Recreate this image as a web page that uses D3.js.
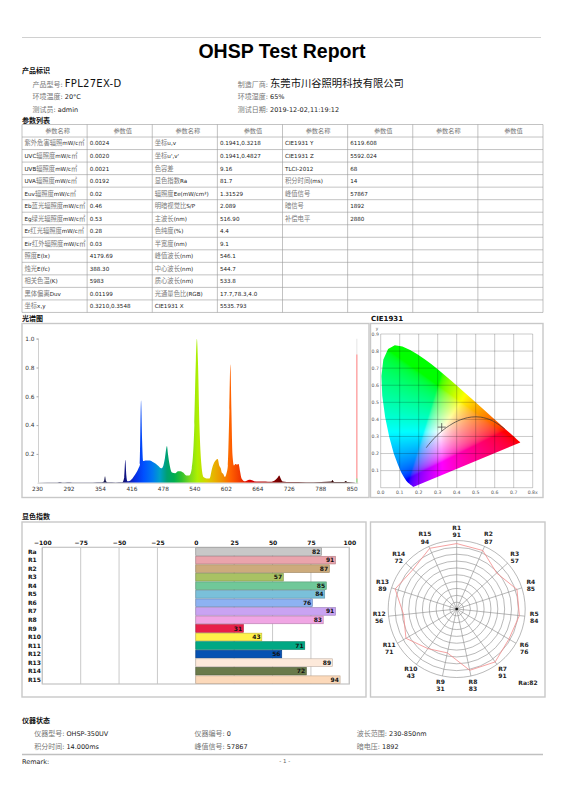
<!DOCTYPE html>
<html>
<head>
<meta charset="utf-8">
<script src="https://cdn.jsdelivr.net/npm/d3@7"></script>
<style>
body { margin: 0; background: #fff; }
</style>
</head>
<body>
<div id="page"></div>
<script>
// ---------- data ----------
const reportTitle = "OHSP Test Report";

const infoLeft = [["产品型号", "FPL27EX-D"], ["环境温度", "20°C"], ["测试员", "admin"]];
const infoRight = [["制造厂商", "东莞市川谷照明科技有限公司"], ["环境湿度", "65%"], ["测试日期", "2019-12-02,11:19:12"]];

const tableHeader = ["参数名称", "参数值", "参数名称", "参数值", "参数名称", "参数值", "参数名称", "参数值"];
const paramNames1 = ["紫外危害辐照mW/c㎡", "UVC辐照度mW/c㎡", "UVB辐照度mW/c㎡", "UVA辐照度mW/c㎡", "Euv辐照度mW/c㎡",
  "Eb蓝光辐照度mW/c㎡", "Eg绿光辐照度mW/c㎡", "Er红光辐照度mW/c㎡", "Eir红外辐照度mW/c㎡", "照度E(lx)",
  "烛光E(fc)", "相关色温(K)", "黑体偏离Duv", "坐标x,y"];
const paramValues1 = ["0.0024", "0.0020", "0.0021", "0.0192", "0.02", "0.46", "0.53", "0.28", "0.03",
  "4179.69", "388.30", "5983", "0.01199", "0.3210,0.3548"];
const paramNames2 = ["坐标u,v", "坐标u',v'", "色容差", "显色指数Ra", "辐照度Ee(mW/cm²)", "明暗视觉比S/P", "主波长(nm)",
  "色纯度(%)", "半宽度(nm)", "峰值波长(nm)", "中心波长(nm)", "质心波长(nm)", "光通量色比(RGB)", "CIE1931 X"];
const paramValues2 = ["0.1941,0.3218", "0.1941,0.4827", "9.16", "81.7", "1.31529", "2.089", "516.90",
  "4.4", "9.1", "546.1", "544.7", "533.8", "17.7,78.3,4.0", "5535.793"];
const paramNames3 = ["CIE1931 Y", "CIE1931 Z", "TLCI-2012", "积分时间(ms)", "峰值信号", "暗信号", "补偿电平"];
const paramValues3 = ["6119.608", "5592.024", "68", "14", "57867", "1892", "2880"];

// relative spectrum [wavelength nm, relative value]
const spectrum = [
  [230, 0], [270, 0.001], [275, 0.005], [280, 0.001], [290, 0.003], [300, 0.002], [320, 0.002], [340, 0.002],
  [358, 0.003], [362, 0.01], [364, 0.045], [366, 0.01], [369, 0.003], [385, 0.002], [398, 0.003],
  [402, 0.04], [404, 0.16], [406, 0.05], [408, 0.01], [412, 0.012], [418, 0.03], [424, 0.06],
  [430, 0.1], [433, 0.13], [435, 0.57], [437, 0.3], [439, 0.15], [445, 0.155], [452, 0.155],
  [460, 0.14], [468, 0.12], [475, 0.1], [479, 0.12], [482, 0.17], [486, 0.255], [488, 0.2],
  [491, 0.13], [496, 0.07], [502, 0.065], [508, 0.08], [513, 0.08], [518, 0.07], [524, 0.05],
  [530, 0.05], [535, 0.1], [540, 0.4], [543, 0.85], [545, 1.0], [547, 0.85], [550, 0.4],
  [554, 0.12], [558, 0.04], [564, 0.03], [570, 0.03], [575, 0.1], [579, 0.14], [583, 0.16],
  [586, 0.165], [589, 0.12], [592, 0.1], [594, 0.07], [597, 0.06], [600, 0.04], [603, 0.06],
  [606, 0.12], [609, 0.5], [611, 0.82], [613, 0.5], [615, 0.2], [618, 0.12], [621, 0.13],
  [624, 0.125], [627, 0.13], [630, 0.08], [633, 0.03], [640, 0.01], [648, 0.02], [652, 0.018],
  [658, 0.01], [665, 0.008], [680, 0.008], [690, 0.006], [700, 0.02], [705, 0.04], [707, 0.05],
  [710, 0.03], [714, 0.008], [730, 0.004], [760, 0.003], [790, 0.005], [810, 0.008], [812, 0.018],
  [815, 0.005], [835, 0.004], [838, 0.012], [842, 0.004], [855, 0.002], [860, 0]
];
const spectrumMarker = [860, 0.89];
const specXTicks = [230, 292, 354, 416, 478, 540, 602, 664, 726, 788, 850];
const specYTicks = [0.2, 0.4, 0.6, 0.8, 1.0];

// CIE 1931 spectral locus (x, y) and Planckian locus
const spectralLocus = [
  [0.1741, 0.0050], [0.1738, 0.0049], [0.1733, 0.0048], [0.1726, 0.0048], [0.1714, 0.0051],
  [0.1703, 0.0058], [0.1689, 0.0069], [0.1669, 0.0086], [0.1644, 0.0109], [0.1611, 0.0138],
  [0.1566, 0.0177], [0.1510, 0.0227], [0.1440, 0.0297], [0.1355, 0.0399], [0.1241, 0.0578],
  [0.1096, 0.0868], [0.0913, 0.1327], [0.0687, 0.2007], [0.0454, 0.2950], [0.0235, 0.4127],
  [0.0082, 0.5384], [0.0039, 0.6548], [0.0139, 0.7502], [0.0389, 0.8120], [0.0743, 0.8338],
  [0.1142, 0.8262], [0.1547, 0.8059], [0.1929, 0.7816], [0.2296, 0.7543], [0.2658, 0.7243],
  [0.3016, 0.6923], [0.3373, 0.6589], [0.3731, 0.6245], [0.4087, 0.5896], [0.4441, 0.5547],
  [0.4788, 0.5202], [0.5125, 0.4866], [0.5448, 0.4544], [0.5752, 0.4242], [0.6029, 0.3965],
  [0.6270, 0.3725], [0.6482, 0.3514], [0.6658, 0.3340], [0.6801, 0.3197], [0.6915, 0.3083],
  [0.7006, 0.2993], [0.7079, 0.2920], [0.7140, 0.2859], [0.7190, 0.2809], [0.7230, 0.2770],
  [0.7260, 0.2740], [0.7300, 0.2700], [0.7334, 0.2666], [0.7347, 0.2653]
];
const planckLocus = [
  [0.6528, 0.3444], [0.5857, 0.3931], [0.5267, 0.4133], [0.4770, 0.4137], [0.4369, 0.4041],
  [0.4053, 0.3907], [0.3805, 0.3768], [0.3451, 0.3516], [0.3221, 0.3318], [0.3064, 0.3166],
  [0.2952, 0.3048], [0.2807, 0.2884], [0.2637, 0.2674], [0.2531, 0.2534], [0.2399, 0.2342]
];
const samplePoint = [0.3210, 0.3548];
const cieXTicks = [0, 0.1, 0.2, 0.3, 0.4, 0.5, 0.6, 0.7, 0.8];
const cieYTicks = [0.1, 0.2, 0.3, 0.4, 0.5, 0.6, 0.7, 0.8, 0.9];

// colour rendering indices
const criNames = ["Ra", "R1", "R2", "R3", "R4", "R5", "R6", "R7", "R8", "R9", "R10", "R11", "R12", "R13", "R14", "R15"];
const criValues = [82, 91, 87, 57, 85, 84, 76, 91, 83, 31, 43, 71, 56, 89, 72, 94];
const criColors = ["#c8c8c8", "#eaa4ac", "#cdab7c", "#a9c263", "#70c899", "#7ac0da", "#8db2f2", "#c9a3f2",
  "#f0a6e4", "#e8204a", "#fff24a", "#00a884", "#0652b2", "#fde9da", "#6a7a4a", "#fcd9ba"];
const criTicks = [-100, -75, -50, -25, 0, 25, 50, 75, 100];

const instrument = [
  [["仪器型号", "OHSP-350UV"], ["仪器编号", "0"], ["波长范围", "230-850nm"]],
  [["积分时间", "14.000ms"], ["峰值信号", "57867"], ["暗电压", "1892"]]
];

// ---------- helpers ----------
const CJK = /[\u3000-\u9fff\uff00-\uffef]/;
const FONT = "'DejaVu Sans','Noto Sans CJK SC',sans-serif";

// splits a string so Chinese runs and Latin runs can get their own size and tone
function mixedText(sel, str, cjkSize, latSize, cjkColor, latColor) {
  const parts = str.match(/[\u3000-\u9fff\uff00-\uffef]+|[^\u3000-\u9fff\uff00-\uffef]+/g) || [];
  parts.forEach(p => {
    const c = CJK.test(p);
    sel.append("tspan")
      .attr("font-family", c ? "'Noto Sans CJK SC',sans-serif" : FONT)
      .attr("font-size", c ? cjkSize : latSize)
      .attr("fill", c ? cjkColor : latColor)
      .text(p);
  });
  return sel;
}

function sectionTitle(x, y, t) {
  svg.append("text").attr("x", x).attr("y", y)
    .attr("font-family", "'Noto Sans CJK SC','DejaVu Sans',sans-serif")
    .attr("font-size", 7).attr("font-weight", "bold").attr("fill", "#111").text(t);
}

function panel(x, y, w, h) {
  svg.append("rect").attr("x", x).attr("y", y).attr("width", w).attr("height", h)
    .attr("fill", "none").attr("stroke", "#c8c8c8").attr("stroke-width", 1.4);
}

const svg = d3.select("#page").append("svg")
  .attr("width", 565).attr("height", 800)
  .style("font-family", FONT);

// ---------- header ----------
svg.append("line").attr("x1", 22).attr("x2", 541).attr("y1", 37.5).attr("y2", 37.5)
  .attr("stroke", "#d0d0d0").attr("stroke-width", 1);

svg.append("text").attr("x", 282).attr("y", 58)
  .attr("text-anchor", "middle").attr("font-family", "'Liberation Sans',Arial,sans-serif")
  .attr("font-size", 19.5).attr("font-weight", "bold").attr("fill", "#000").text(reportTitle);

sectionTitle(22, 73, "产品标识");

infoLeft.forEach((d, i) => {
  const t = svg.append("text").attr("x", 32.5).attr("y", [87, 99.2, 111.8][i]);
  mixedText(t, d[0], 7, 6.5, "#777", "#333");
  t.append("tspan").attr("font-size", 6.5).attr("fill", "#333").text(": ");
  if (i === 0) {
    t.append("tspan").attr("font-size", 10).attr("fill", "#111").attr("letter-spacing", 0.3).text(d[1]);
  } else {
    mixedText(t, d[1], 7, 6.5, "#333", "#222");
  }
});
infoRight.forEach((d, i) => {
  const t = svg.append("text").attr("x", 237.8).attr("y", [87, 99.2, 111.8][i]);
  mixedText(t, d[0], 7, 6.5, "#777", "#333");
  t.append("tspan").attr("font-size", 6.5).attr("fill", "#333").text(": ");
  if (i === 0) {
    mixedText(t, d[1], 10.3, 10, "#111", "#111");
  } else {
    mixedText(t, d[1], 7, 6.5, "#333", "#222");
  }
});

sectionTitle(22, 123, "参数列表");

// ---------- parameter table ----------
const colX = d3.range(9).map(i => 22 + i * 65.125);
const rowH = 12.53, tableTop = 124.5;
const rows = d3.range(14).map(i => [
  paramNames1[i], paramValues1[i], paramNames2[i], paramValues2[i],
  paramNames3[i] || "", paramValues3[i] || "", "", ""
]);

const tbl = svg.append("g");
d3.range(16).forEach(i => {
  tbl.append("line").attr("x1", colX[0]).attr("x2", colX[8])
    .attr("y1", tableTop + i * rowH).attr("y2", tableTop + i * rowH)
    .attr("stroke", "#9a9a9a").attr("stroke-width", 0.6);
});
colX.forEach(x => {
  tbl.append("line").attr("x1", x).attr("x2", x)
    .attr("y1", tableTop).attr("y2", tableTop + 15 * rowH)
    .attr("stroke", "#9a9a9a").attr("stroke-width", 0.6);
});
tableHeader.forEach((h, j) => {
  const t = tbl.append("text").attr("x", (colX[j] + colX[j + 1]) / 2 + 3).attr("y", tableTop + rowH / 2 + 2.3)
    .attr("text-anchor", "middle");
  mixedText(t, h, 6.2, 5.8, "#777", "#333");
});
rows.forEach((r, i) => {
  r.forEach((cell, j) => {
    if (!cell) return;
    const t = tbl.append("text").attr("x", colX[j] + 2.5).attr("y", tableTop + (i + 1) * rowH + rowH / 2 + 2.2);
    mixedText(t, cell, 6.3, 5.6, "#7a7a7a", "#222");
  });
});

// ---------- spectrum ----------
sectionTitle(22, 321, "光谱图");
panel(22, 323.5, 347, 174);

const xS = d3.scaleLinear().domain([230, 862]).range([37, 357.8]);
const yS = d3.scaleLinear().domain([0, 1]).range([482.7, 338.7]);

const gradStops = [
  [230, "#2a2a55"], [395, "#151550"], [402, "#101078"], [412, "#1020b0"], [425, "#0630e8"],
  [440, "#0050ff"], [458, "#0078f0"], [472, "#00a0c8"], [486, "#00a070"], [500, "#00ae50"],
  [515, "#30c030"], [530, "#78d820"], [546, "#aef000"], [565, "#d8d000"], [580, "#e8b000"],
  [595, "#f09000"], [612, "#ff6000"], [630, "#f03800"], [650, "#d80000"], [680, "#a80000"],
  [710, "#700000"], [760, "#400000"], [862, "#200000"]
];
const defs = svg.append("defs");
const grad = defs.append("linearGradient").attr("id", "specGrad")
  .attr("gradientUnits", "userSpaceOnUse")
  .attr("x1", xS(230)).attr("x2", xS(862)).attr("y1", 0).attr("y2", 0);
grad.selectAll("stop").data(gradStops).join("stop")
  .attr("offset", d => (xS(d[0]) - xS(230)) / (xS(862) - xS(230)))
  .attr("stop-color", d => d[1]);

const gSpec = svg.append("g");
gSpec.append("path").datum(spectrum)
  .attr("fill", "url(#specGrad)")
  .attr("d", d3.area().x(d => xS(d[0])).y0(yS(0)).y1(d => yS(d[1])).curve(d3.curveMonotoneX));

// odd marker line at the far right edge of the scan
gSpec.append("line")
  .attr("x1", xS(spectrumMarker[0])).attr("x2", xS(spectrumMarker[0]))
  .attr("y1", yS(0)).attr("y2", yS(1))
  .attr("stroke", "#eee").attr("stroke-width", 1.5);
gSpec.append("line")
  .attr("x1", xS(spectrumMarker[0])).attr("x2", xS(spectrumMarker[0]))
  .attr("y1", yS(0)).attr("y2", yS(spectrumMarker[1]))
  .attr("stroke", "#ffaaaa").attr("stroke-width", 1.5);
gSpec.append("line")
  .attr("x1", xS(spectrumMarker[0])).attr("x2", xS(spectrumMarker[0]))
  .attr("y1", yS(0)).attr("y2", yS(0.03))
  .attr("stroke", "#9be39b").attr("stroke-width", 1.5);

const xAxS = gSpec.append("g").attr("transform", `translate(0,${yS(0)})`)
  .call(d3.axisBottom(xS).tickValues(specXTicks).tickSize(0).tickPadding(4));
const yAxS = gSpec.append("g").attr("transform", `translate(${xS(230) + 1.5},0)`)
  .call(d3.axisLeft(yS).tickValues(specYTicks).tickSize(2).tickPadding(2).tickFormat(d3.format(".1f")));
[xAxS, yAxS].forEach(a => {
  a.select(".domain").attr("stroke", "#d0d0d0");
  a.selectAll(".tick line").attr("stroke", "#aaa");
  a.selectAll("text").attr("font-size", 5.8).attr("fill", "#333").attr("font-family", FONT);
});
yAxS.select(".domain").attr("d", `M-2,${yS(1)}H0V${yS(0)}`);

// ---------- CIE 1931 ----------
svg.append("text").attr("x", 371).attr("y", 321).attr("font-size", 7).attr("font-weight", "bold")
  .attr("fill", "#111").text("CIE1931");
panel(370.5, 323.5, 172.5, 174);

const cx = d3.scaleLinear().domain([0, 0.8]).range([380.7, 532.7]);
const cy = d3.scaleLinear().domain([0, 0.9]).range([487.7, 334]);

function xyToRgb(x, y) {
  const X = x / y, Y = 1, Z = (1 - x - y) / y;
  let r = 3.2406 * X - 1.5372 * Y - 0.4986 * Z;
  let g = -0.9689 * X + 1.8758 * Y + 0.0415 * Z;
  let b = 0.0557 * X - 0.2040 * Y + 1.0570 * Z;
  r = Math.max(r, 0); g = Math.max(g, 0); b = Math.max(b, 0);
  const m = Math.max(r, g, b) || 1;
  return [r, g, b].map(v => {
    v /= m;
    return 255 * (v <= 0.0031308 ? 12.92 * v : 1.055 * Math.pow(v, 1 / 2.4) - 0.055);
  });
}

const scale = 2;
const cw = Math.round((cx(0.8) - cx(0)) * scale), ch = Math.round((cy(0) - cy(0.9)) * scale);
const canvas = document.createElement("canvas");
canvas.width = cw; canvas.height = ch;
const ctx = canvas.getContext("2d");
const img = ctx.createImageData(cw, ch);
for (let py = 0; py < ch; py++) {
  for (let px = 0; px < cw; px++) {
    const x = cx.invert(cx(0) + px / scale), y = cy.invert(cy(0.9) + py / scale);
    const k = (py * cw + px) * 4;
    if (y <= 0.001) { img.data[k + 3] = 0; continue; }
    const c = xyToRgb(x, y);
    img.data[k] = c[0]; img.data[k + 1] = c[1]; img.data[k + 2] = c[2]; img.data[k + 3] = 255;
  }
}
ctx.putImageData(img, 0, 0);

const locusLine = d3.line().x(d => cx(d[0])).y(d => cy(d[1]));
defs.append("clipPath").attr("id", "locusClip")
  .append("path").attr("d", locusLine(spectralLocus) + "Z");

const gCie = svg.append("g");
gCie.append("image")
  .attr("href", canvas.toDataURL())
  .attr("x", cx(0)).attr("y", cy(0.9))
  .attr("width", cw / scale).attr("height", ch / scale)
  .attr("preserveAspectRatio", "none")
  .attr("clip-path", "url(#locusClip)");

cieXTicks.forEach(v => {
  gCie.append("line").attr("x1", cx(v)).attr("x2", cx(v)).attr("y1", cy(0)).attr("y2", cy(0.9))
    .attr("stroke", "#000").attr("stroke-opacity", 0.3).attr("stroke-width", 0.7);
});
[0].concat(cieYTicks).forEach(v => {
  gCie.append("line").attr("x1", cx(0)).attr("x2", cx(0.8)).attr("y1", cy(v)).attr("y2", cy(v))
    .attr("stroke", "#000").attr("stroke-opacity", 0.3).attr("stroke-width", 0.7);
});

gCie.append("path").datum(planckLocus)
  .attr("fill", "none").attr("stroke", "#333").attr("stroke-width", 0.7)
  .attr("d", d3.line().x(d => cx(d[0])).y(d => cy(d[1])).curve(d3.curveCatmullRom));

gCie.append("path")
  .attr("d", `M${cx(samplePoint[0]) - 4},${cy(samplePoint[1])}h8M${cx(samplePoint[0])},${cy(samplePoint[1]) - 4}v8`)
  .attr("stroke", "#333").attr("stroke-width", 0.7);

cieXTicks.forEach(v => {
  gCie.append("text").attr("x", cx(v)).attr("y", cy(0) + 6.3).attr("text-anchor", "middle")
    .attr("font-size", 4.6).attr("fill", "#555").text(v.toFixed(1) + (v === 0.8 ? "x" : ""));
});
cieYTicks.forEach(v => {
  gCie.append("text").attr("x", cx(0) - 1.8).attr("y", cy(v) + 1.8).attr("text-anchor", "end")
    .attr("font-size", 4.6).attr("fill", "#555").text(v.toFixed(1));
});
gCie.append("text").attr("x", cx(0) - 2.5).attr("y", cy(0.9) - 3.6).attr("text-anchor", "end")
  .attr("font-size", 4.2).attr("fill", "#555").text("y");

// ---------- colour rendering bars ----------
sectionTitle(22, 519, "显色指数");
panel(22, 522, 344, 175);

const xB = d3.scaleLinear().domain([-100, 100]).range([42.3, 349.3]);
const yB = d3.scaleBand().domain(criNames).range([547.3, 684]).paddingInner(0.1).paddingOuter(0.05);
const gBar = svg.append("g");

criTicks.forEach(v => {
  gBar.append("line").attr("x1", xB(v)).attr("x2", xB(v)).attr("y1", 547.3).attr("y2", 684)
    .attr("stroke", "#c4c4c4").attr("stroke-width", 0.9);
});
gBar.append("rect").attr("x", xB(-100)).attr("y", 547.3).attr("width", xB(100) - xB(-100)).attr("height", 684 - 547.3)
  .attr("fill", "none").attr("stroke", "#c4c4c4").attr("stroke-width", 1.2);

const topAx = gBar.append("g").attr("transform", "translate(0,547.3)")
  .call(d3.axisTop(xB).tickValues(criTicks).tickSize(0).tickPadding(2.5));
topAx.select(".domain").remove();
topAx.selectAll("text").attr("font-size", 6).attr("font-weight", "bold").attr("fill", "#111").attr("font-family", FONT);

gBar.selectAll("rect.bar").data(criNames).join("rect").attr("class", "bar")
  .attr("x", xB(0))
  .attr("y", d => yB(d))
  .attr("width", (d, i) => xB(criValues[i]) - xB(0))
  .attr("height", yB.bandwidth())
  .attr("fill", (d, i) => criColors[i])
  .attr("stroke", (d, i) => d3.color(criColors[i]).darker(0.8))
  .attr("stroke-width", 0.6);

gBar.selectAll("text.val").data(criNames).join("text").attr("class", "val")
  .attr("x", (d, i) => xB(criValues[i]) - 1.2)
  .attr("y", d => yB(d) + yB.bandwidth() / 2 + 2.1)
  .attr("text-anchor", "end").attr("font-size", 6).attr("font-weight", "bold").attr("fill", "#111")
  .text((d, i) => criValues[i]);

gBar.selectAll("text.cat").data(criNames).join("text").attr("class", "cat")
  .attr("x", 28).attr("y", d => yB(d) + yB.bandwidth() / 2 + 2.1)
  .attr("font-size", 6).attr("font-weight", "bold").attr("fill", "#111")
  .text(d => d);

// ---------- polar chart of R1..R15 ----------
panel(370.5, 522, 174.5, 175);
const pc = [456.7, 609], pR = 68.5;
const rS = d3.scaleLinear().domain([-100, 100]).range([0, pR]);
const polarNames = criNames.slice(1), polarValues = criValues.slice(1);
const ang = d3.scaleLinear().domain([0, polarNames.length]).range([0, 2 * Math.PI]);
const gPol = svg.append("g").attr("transform", `translate(${pc[0]},${pc[1]})`);

d3.range(-80, 101, 20).forEach(v => {
  gPol.append("circle").attr("r", rS(v)).attr("fill", "none")
    .attr("stroke", "#8a8a8a").attr("stroke-width", 0.6);
});
polarNames.forEach((n, i) => {
  const a = ang(i);
  gPol.append("line").attr("x1", 0).attr("y1", 0)
    .attr("x2", Math.sin(a) * pR).attr("y2", -Math.cos(a) * pR)
    .attr("stroke", "#8a8a8a").attr("stroke-width", 0.6);
});
gPol.append("circle").attr("r", 1.3).attr("fill", "#111");

gPol.append("path").datum(polarValues)
  .attr("fill", "none").attr("stroke", "#f28a8a").attr("stroke-width", 0.8)
  .attr("d", d3.lineRadial().angle((d, i) => ang(i)).radius(d => rS(d)).curve(d3.curveLinearClosed));

polarNames.forEach((n, i) => {
  const a = ang(i), lr = 78;
  const lx = Math.sin(a) * lr, ly = -Math.cos(a) * lr;
  gPol.append("text").attr("x", lx).attr("y", ly - 1.3).attr("text-anchor", "middle")
    .attr("font-size", 6).attr("font-weight", "bold").attr("fill", "#222").text(n);
  gPol.append("text").attr("x", lx).attr("y", ly + 5.8).attr("text-anchor", "middle")
    .attr("font-size", 6).attr("font-weight", "bold").attr("fill", "#222").text(polarValues[i]);
});
svg.append("text").attr("x", 528).attr("y", 685).attr("text-anchor", "middle")
  .attr("font-size", 6).attr("font-weight", "bold").attr("fill", "#222")
  .text("Ra:" + criValues[0]);

// ---------- instrument status ----------
sectionTitle(22, 722.5, "仪器状态");
const colStart = [34.2, 194.6, 356.8];
instrument.forEach((row, r) => {
  row.forEach((d, c) => {
    const t = svg.append("text").attr("x", colStart[c]).attr("y", [736, 749][r]);
    mixedText(t, d[0], 7, 6.5, "#777", "#333");
    t.append("tspan").attr("font-size", 6.5).attr("fill", "#333").text(": ");
    t.append("tspan").attr("font-size", 6.5).attr("fill", "#222").text(d[1]);
  });
});
svg.append("line").attr("x1", 22).attr("x2", 543).attr("y1", 754.5).attr("y2", 754.5)
  .attr("stroke", "#c0c0c0").attr("stroke-width", 1.4);
svg.append("text").attr("x", 22).attr("y", 763.5).attr("font-size", 6.5).attr("fill", "#222").text("Remark:");
svg.append("text").attr("x", 284.7).attr("y", 763).attr("text-anchor", "middle")
  .attr("font-size", 5.5).attr("fill", "#666").text("- 1 -");
</script>
</body>
</html>
